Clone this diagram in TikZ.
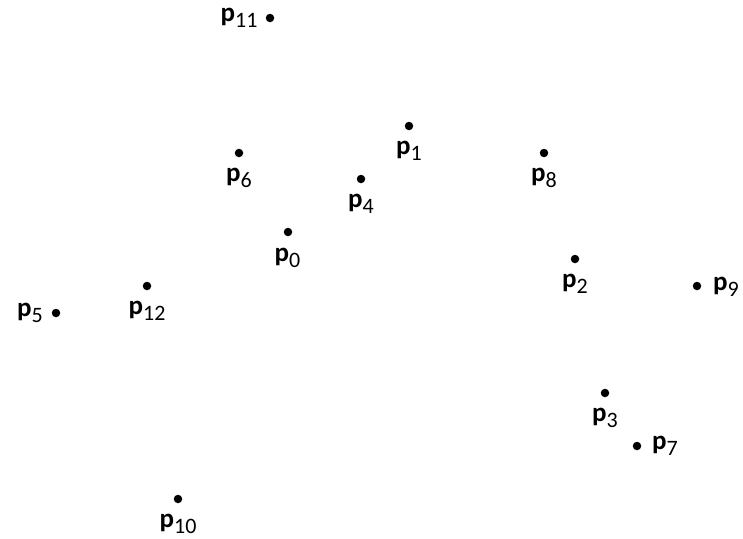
\documentclass[tikz,border=0pt]{standalone}
\usepackage{fontspec}
\setmainfont{Carlito}
\newcommand{\pname}[1]{\textbf{p}\raisebox{-6pt}{\fontsize{22}{22}\selectfont #1}}
\tikzset{
  pdot/.style={circle, fill=black, inner sep=0pt, minimum size=8.5pt},
  plabel/.style={inner sep=0pt, font=\fontsize{27}{32}\selectfont}
}

\begin{document}
\begin{tikzpicture}[x=1pt, y=-1pt]
			%%%%% START %%%%%
			\useasboundingbox (0, 0) rectangle (743, 538);
			
			\node[pdot] (p0) at (288, 232) {};
			\node[plabel] (l0) at (287.5, 257.5) {\pname{0}};
			
			\node[pdot] (p1) at (409, 126) {};
			\node[plabel] (l1) at (409, 151) {\pname{1}};
			
			\node[pdot] (p2) at (575, 259) {};
			\node[plabel] (l2) at (575, 284) {\pname{2}};
			
			\node[pdot] (p3) at (605, 393) {};
			\node[plabel] (l3) at (605, 418) {\pname{3}};
			
			\node[pdot] (p4) at (361, 179) {};
			\node[plabel] (l4) at (361, 204) {\pname{4}};
			
			\node[pdot] (p5) at (56, 313) {};
			\node[plabel] (l5) at (30, 313) {\pname{5}};
			
			\node[pdot] (p6) at (239, 153) {};
			\node[plabel] (l6) at (239, 178) {\pname{6}};
			
			\node[pdot] (p7) at (637, 446) {};
			\node[plabel] (l7) at (665, 446) {\pname{7}};
			
			\node[pdot] (p8) at (544, 153) {};
			\node[plabel] (l8) at (544, 178) {\pname{8}};
			
			\node[pdot] (p9) at (697, 286) {};
			\node[plabel] (l9) at (726, 287) {\pname{9}};
			
			\node[pdot] (p10) at (178, 499) {};
			\node[plabel] (l10) at (178, 524) {\pname{10}};
			
			\node[pdot] (p11) at (270, 18) {};
			\node[plabel] (l11) at (239, 18) {\pname{11}};
			
			\node[pdot] (p12) at (147, 286) {};
			\node[plabel] (l12) at (147, 311) {\pname{12}};
			
			%%%%% END %%%%%
\end{tikzpicture}
\end{document}
